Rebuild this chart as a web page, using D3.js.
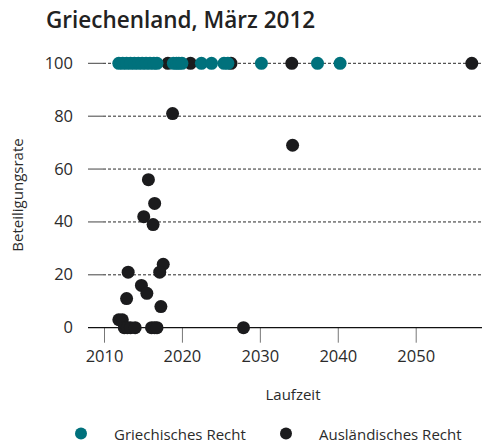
<!DOCTYPE html>
<html>
<head>
<meta charset="utf-8">
<script src="https://cdn.jsdelivr.net/npm/d3@7"></script>
<style>
  body { margin: 0; background: #fff; }
  text { font-family: "Open Sans", sans-serif; fill: #2b2b2b; }
</style>
</head>
<body>
<script>
// data: maturity year (Laufzeit) and participation rate
var greekYears = [2011.9, 2012.4, 2012.9, 2013.4, 2013.9, 2014.4, 2014.9, 2015.4, 2015.9, 2016.4, 2016.8,
                  2018.9, 2019.3, 2019.6, 2020.0, 2022.5, 2023.8, 2025.4, 2025.9, 2030.2, 2037.4, 2040.3];
var greekRates = [100, 100, 100, 100, 100, 100, 100, 100, 100, 100, 100,
                  100, 100, 100, 100, 100, 100, 100, 100, 100, 100, 100];

var foreignYears = [2018.2, 2021.1, 2026.3, 2034.1, 2057.2,
                    2018.8, 2034.2, 2015.7, 2016.5, 2015.1, 2016.3, 2017.6, 2017.15, 2013.1,
                    2014.8, 2015.5, 2012.9, 2017.3, 2011.9, 2012.35,
                    2012.6, 2013.0, 2013.4, 2014.0, 2016.1, 2016.5, 2016.8, 2027.9];
var foreignRates = [100, 100, 100, 100, 100,
                    81, 69, 56, 47, 42, 39, 24, 21, 21,
                    16, 13, 11, 8, 3, 3,
                    0, 0, 0, 0, 0, 0, 0, 0];

var xTicks = [2010, 2020, 2030, 2040, 2050];
var yTicks = [0, 20, 40, 60, 80, 100];
var legendLabels = ["Griechisches Recht", "Ausländisches Recht"];
var colors = ["#00717c", "#1b1b1d"];

var width = 500, height = 443;
var left = 88, right = 482;

var svg = d3.select("body").append("svg")
	.attr("width", width)
	.attr("height", height);

// scales
var x = d3.scaleLinear().domain([2010, 2050]).range([104, 415.7]);
var y = d3.scaleLinear().domain([0, 100]).range([327.7, 63.3]);

// title
svg.append("text")
	.attr("x", 46)
	.attr("y", 28)
	.attr("font-size", 22.5)
	.attr("font-weight", 600)
	.style("fill", "#222")
	.text("Griechenland, März 2012");

// horizontal grid, short solid piece then dashed line
var grid = svg.append("g");
yTicks.forEach(function(t) {
	if (t == 0) return;
	grid.append("line")
		.attr("x1", left).attr("x2", left + 15)
		.attr("y1", y(t)).attr("y2", y(t))
		.attr("stroke", "#444").attr("stroke-width", 1);
	grid.append("line")
		.attr("x1", left + 15).attr("x2", right)
		.attr("y1", y(t)).attr("y2", y(t))
		.attr("stroke", "#111").attr("stroke-width", 0.9)
		.attr("stroke-dasharray", "3,2");
});

// y tick labels
svg.append("g").selectAll("text")
	.data(yTicks).enter().append("text")
	.attr("x", 73)
	.attr("y", function(d) { return y(d) + 5.5; })
	.attr("font-size", 16.5)
	.style("text-anchor", "end")
	.text(function(d) { return d; });

// x axis
var xAxis = svg.append("g")
	.attr("transform", "translate(0," + y(0) + ")")
	.call(d3.axisBottom(x).tickValues(xTicks).tickFormat(d3.format("d")).tickSize(15).tickPadding(8));
xAxis.select(".domain").remove();
xAxis.selectAll(".tick line").attr("stroke", "#777");
xAxis.selectAll(".tick text")
	.attr("font-size", 16.5)
	.style("font-family", "Open Sans, sans-serif")
	.style("fill", "#2b2b2b");

// zero line
svg.append("line")
	.attr("x1", left).attr("x2", right)
	.attr("y1", y(0)).attr("y2", y(0))
	.attr("stroke", "#111").attr("stroke-width", 1.3);

// axis labels
svg.append("text")
	.attr("x", 293)
	.attr("y", 400)
	.attr("font-size", 15)
	.style("text-anchor", "middle")
	.text("Laufzeit");

svg.append("text")
	.attr("transform", "translate(23,195) rotate(-90)")
	.attr("font-size", 15)
	.style("text-anchor", "middle")
	.text("Beteiligungsrate");

// dots: foreign law first, greek law on top
var r = 6.5;
svg.append("g").selectAll("circle")
	.data(foreignYears).enter().append("circle")
	.attr("cx", function(d) { return x(d); })
	.attr("cy", function(d, i) { return y(foreignRates[i]); })
	.attr("r", r)
	.attr("fill", colors[1]);

svg.append("g").selectAll("circle")
	.data(greekYears).enter().append("circle")
	.attr("cx", function(d) { return x(d); })
	.attr("cy", function(d, i) { return y(greekRates[i]); })
	.attr("r", r)
	.attr("fill", colors[0]);

// legend
var legendX = [81, 286];
legendLabels.forEach(function(lab, i) {
	svg.append("circle")
		.attr("cx", legendX[i]).attr("cy", 433.5)
		.attr("r", 6)
		.attr("fill", colors[i]);
	svg.append("text")
		.attr("x", legendX[i] + 33)
		.attr("y", 440)
		.attr("font-size", 15)
		.text(lab);
});
</script>
</body>
</html>
